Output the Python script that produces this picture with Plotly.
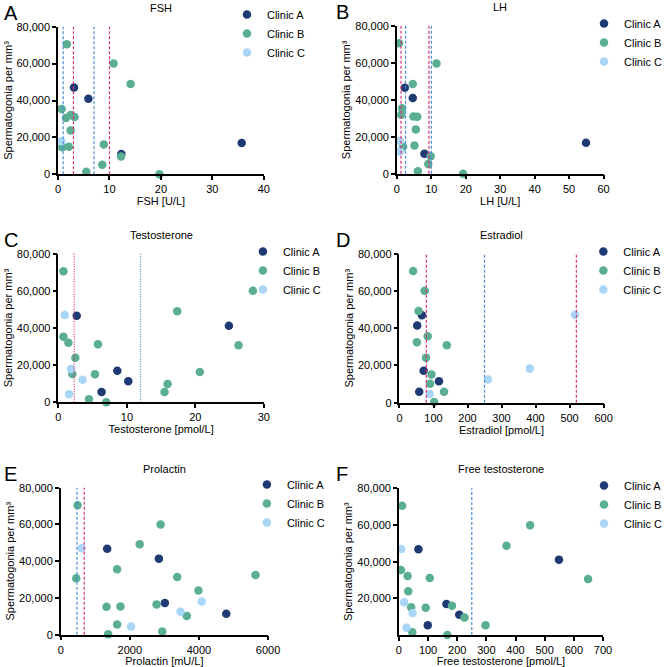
import plotly.graph_objects as go

CLINICS = ["Clinic A", "Clinic B", "Clinic C"]
COLORS = {"Clinic A": "#1f3a72", "Clinic B": "#5aae93", "Clinic C": "#a9d6f7"}
PINK = "#d8317a"
BLUE = "#4b8bd6"

# FSH [U/L]
FSH_A_X = [3.1, 5.9, 35.7, 12.3]
FSH_A_Y = [47000, 41000, 17000, 11000]
FSH_B_X = [1.7, 10.8, 14.1, 0.7, 1.55, 2.45, 3.2, 2.45, 0.8, 2.1, 8.9, 12.25, 8.6, 5.5, 19.7]
FSH_B_Y = [70500, 60000, 49000, 35400, 30500, 32100, 31000, 23800, 14600, 15000, 16200, 9600, 5200, 1400, 0]
FSH_C_X = [0.65]
FSH_C_Y = [17900]

# LH [U/L]
LH_A_X = [2.3, 4.6, 54.9, 8.0]
LH_A_Y = [46600, 41000, 16800, 10800]
LH_B_X = [0.6, 11.5, 4.6, 1.5, 1.25, 4.8, 5.9, 5.5, 1.8, 5.1, 9.8, 9.1, 6.1, 19.2]
LH_B_Y = [70600, 59700, 48600, 35400, 31900, 31000, 30900, 24000, 14600, 15300, 9400, 5200, 1300, 0]
LH_C_X = [0.9, 0.9]
LH_C_Y = [17700, 12000]

# Testosterone
TESTO_A_X = [2.67, 24.9, 8.6, 10.2, 6.3]
TESTO_A_Y = [46600, 41200, 17000, 11300, 5600]
TESTO_B_X = [0.73, 28.4, 17.35, 0.73, 1.45, 5.77, 26.3, 2.47, 20.65, 2.03, 5.33, 15.95, 15.5, 4.46, 6.98]
TESTO_B_Y = [70500, 60100, 49000, 35300, 32100, 31200, 30700, 24000, 16300, 15200, 15100, 9900, 5600, 1600, 0]
TESTO_C_X = [0.92, 1.84, 3.54, 1.55]
TESTO_C_Y = [47000, 17900, 12200, 4300]

# Estradiol
E2_A_X = [66, 52, 71, 116, 58]
E2_A_Y = [47000, 41400, 17200, 11500, 5900]
E2_B_X = [40, 74, 56, 83, 51, 139, 78, 94, 90, 131, 102]
E2_B_Y = [70700, 60100, 49200, 35700, 32500, 30900, 24200, 15200, 10200, 5900, 400]
E2_C_X = [516, 383, 260, 89]
E2_C_Y = [47200, 18300, 12400, 4700]

# Prolactin
PRL_A_X = [1344, 2840, 3014, 4790]
PRL_A_Y = [46800, 41400, 17200, 11400]
PRL_B_X = [490, 2890, 2285, 1632, 3370, 5635, 450, 3984, 2774, 1325, 1728, 3648, 1632, 2938, 1373]
PRL_B_Y = [70400, 60000, 49200, 35600, 31400, 32500, 30700, 24100, 16500, 15200, 15400, 10200, 5600, 1800, 200]
PRL_C_X = [605, 4080, 3466, 2035]
PRL_C_Y = [47000, 18100, 12500, 4500]

# Free testosterone
FT_A_X = [67, 549, 163, 207, 99]
FT_A_Y = [46700, 41100, 16900, 11100, 5300]
FT_B_X = [11, 450, 369, 7, 30, 106, 649, 32, 182, 42, 92, 225, 297, 46, 166]
FT_B_Y = [70500, 59800, 48700, 35500, 32200, 31100, 30500, 23800, 16000, 15100, 14900, 9600, 5300, 1500, 0]
FT_C_X = [8, 18, 47, 26]
FT_C_Y = [46900, 17800, 12000, 4000]

# reference range limits (vertical lines)
FSH_PINK, FSH_BLUE = [3, 10], [1, 7]
LH_PINK, LH_BLUE = [1.2, 9.3], [2.5, 10.0]
TESTO_PINK, TESTO_BLUE = [2.3], [12]
E2_PINK, E2_BLUE = [79, 520], [250]
PRL_PINK, PRL_BLUE = [680], [470]
FT_PINK, FT_BLUE = [], [250]

PANELS = [
    dict(letter="A", title="FSH", xlabel="FSH [U/L]", xmax=40, dtick=10,
         data=[(FSH_A_X, FSH_A_Y), (FSH_B_X, FSH_B_Y), (FSH_C_X, FSH_C_Y)],
         pink=FSH_PINK, blue=FSH_BLUE, dash="3px,2px",
         xdom=[58.3, 265], ydom=[26.7, 174.3], leg=(268, 34)),
    dict(letter="B", title="LH", xlabel="LH [U/L]", xmax=60, dtick=10,
         data=[(LH_A_X, LH_A_Y), (LH_B_X, LH_B_Y), (LH_C_X, LH_C_Y)],
         pink=LH_PINK, blue=LH_BLUE, dash="3px,2px",
         xdom=[398.7, 606.3], ydom=[26, 173.7], leg=(627, 43)),
    dict(letter="C", title="Testosterone", xlabel="Testosterone [pmol/L]", xmax=30, dtick=10,
         data=[(TESTO_A_X, TESTO_A_Y), (TESTO_B_X, TESTO_B_Y), (TESTO_C_X, TESTO_C_Y)],
         pink=TESTO_PINK, blue=TESTO_BLUE, dash="1px,1.5px",
         xdom=[58.7, 265], ydom=[253.7, 402.3], leg=(284, 271)),
    dict(letter="D", title="Estradiol", xlabel="Estradiol [pmol/L]", xmax=600, dtick=100,
         data=[(E2_A_X, E2_A_Y), (E2_B_X, E2_B_Y), (E2_C_X, E2_C_Y)],
         pink=E2_PINK, blue=E2_BLUE, dash="3px,2px",
         xdom=[401.3, 606.3], ydom=[253.7, 402.7], leg=(626, 271)),
    dict(letter="E", title="Prolactin", xlabel="Prolactin [mU/L]", xmax=6000, dtick=2000,
         data=[(PRL_A_X, PRL_A_Y), (PRL_B_X, PRL_B_Y), (PRL_C_X, PRL_C_Y)],
         pink=PRL_PINK, blue=PRL_BLUE, dash="3px,2px",
         xdom=[61, 269.3], ydom=[487.7, 634.7], leg=(288, 504)),
    dict(letter="F", title="Free testosterone", xlabel="Free testosterone [pmol/L]", xmax=700, dtick=100,
         data=[(FT_A_X, FT_A_Y), (FT_B_X, FT_B_Y), (FT_C_X, FT_C_Y)],
         pink=FT_PINK, blue=FT_BLUE, dash="3px,2px",
         xdom=[400.7, 605.7], ydom=[488.3, 635], leg=(627, 505), no_zero=True),
]

W = H = 667
FONT = "Arial, Liberation Sans, sans-serif"


def px_x(v):
    return v / W


def px_y(v):
    return 1 - v / H


fig = go.Figure()
annotations = []
shapes = []
layout = {}

for i, p in enumerate(PANELS, start=1):
    sfx = "" if i == 1 else str(i)
    xa, ya = "x" + sfx, "y" + sfx
    leg = "legend" + sfx

    for clinic, (xs, ys) in zip(CLINICS, p["data"]):
        fig.add_trace(go.Scatter(
            x=xs, y=ys, mode="markers", name=clinic,
            marker=dict(color=COLORS[clinic], size=8.5, line=dict(width=0)),
            xaxis=xa, yaxis=ya, legend=leg, cliponaxis=False,
        ))

    for vals, color in ((p["pink"], PINK), (p["blue"], BLUE)):
        for v in vals:
            shapes.append(dict(type="line", xref=xa, yref=ya + " domain",
                               x0=v, x1=v, y0=0, y1=1,
                               line=dict(color=color, width=1.2, dash=p["dash"])))

    yticks = [20000, 40000, 60000, 80000] if p.get("no_zero") else [0, 20000, 40000, 60000, 80000]
    common = dict(showline=True, linecolor="black", linewidth=1.5, ticks="outside",
                  ticklen=4, tickwidth=1.5, tickcolor="black", showgrid=False,
                  zeroline=False, tickfont=dict(size=11, color="black", family=FONT),
                  automargin=False)
    layout["xaxis" + sfx] = dict(
        common, domain=[px_x(p["xdom"][0]), px_x(p["xdom"][1])],
        range=[0, p["xmax"]], tick0=0, dtick=p["dtick"], anchor=ya,
        title=dict(text=p["xlabel"], standoff=2, font=dict(size=11, color="black", family=FONT)),
    )
    layout["yaxis" + sfx] = dict(
        common, domain=[px_y(p["ydom"][1]), px_y(p["ydom"][0])],
        range=[0, 80000], tickvals=yticks, tickformat=",", anchor=xa,
        title=dict(text="Spermatogonia per mm³", standoff=2,
                   font=dict(size=11, color="black", family=FONT)),
    )
    layout[leg] = dict(
        x=px_x(p["leg"][0] - 40), y=px_y(p["leg"][1] - 34), xanchor="left", yanchor="top",
        bgcolor="rgba(0,0,0,0)", font=dict(size=11, color="black", family=FONT),
        tracegroupgap=0,
    )

    left = 2 if p["xdom"][0] < 300 else 336
    annotations.append(dict(text=p["letter"], xref="paper", yref="paper",
                            x=px_x(left), y=px_y(p["ydom"][0] - 27),
                            xanchor="left", yanchor="top", showarrow=False,
                            font=dict(size=20, color="black", family=FONT)))
    annotations.append(dict(text=p["title"], xref="paper", yref="paper",
                            x=px_x((p["xdom"][0] + p["xdom"][1]) / 2),
                            y=px_y(p["ydom"][0] - 19), xanchor="center", yanchor="middle",
                            showarrow=False, font=dict(size=11, color="black", family=FONT)))

fig.update_layout(
    width=W, height=H,
    margin=dict(l=0, r=0, t=0, b=0),
    paper_bgcolor="white", plot_bgcolor="white",
    font=dict(family=FONT, color="black"),
    annotations=annotations, shapes=shapes,
    **layout,
)

# drop the page's default body margin so the figure sits at the window corner
fig.write_html("out.html", config={"displayModeBar": False},
               post_script="document.body.style.margin = '0';")
